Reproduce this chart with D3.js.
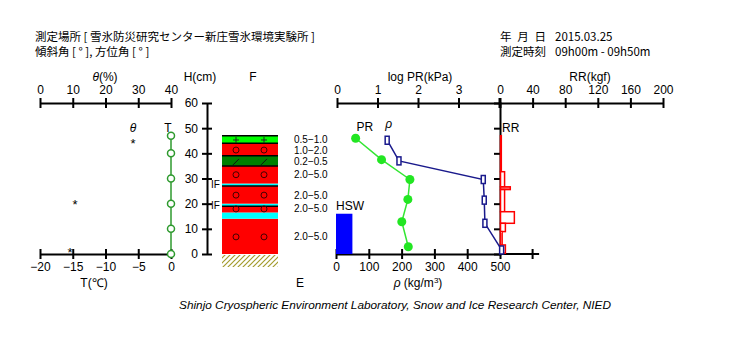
<!DOCTYPE html>
<html>
<head>
<meta charset="utf-8">
<script src="https://cdn.jsdelivr.net/npm/d3@7"></script>
<style>
    body { margin: 0; background: #fff; }
    text { font-family: 'Liberation Sans', Arial, sans-serif; fill: #000; }
    .jp { font-family: 'Noto Sans CJK JP', sans-serif; font-size: 11.5px; }
    .tick text { font-size: 12px; }
    .axis path, .axis line { stroke: #000; stroke-width: 2; }
</style>
</head>
<body>
<svg class="chart" width="730" height="350"></svg>
<script>
// header
var siteLine = '測定場所 [ 雪氷防災研究センター新庄雪氷環境実験所 ]';
var slopeLine = '傾斜角 [ ° ], 方位角 [ ° ]';
var dateText = '2015.03.25';
var timeText = '09h00m - 09h50m';

// ticks
var heightTicks = [0, 10, 20, 30, 40, 50, 60];
var thetaTicks = [0, 10, 20, 30, 40];
var tempTicks = [-20, -15, -10, -5, 0];
var logPrTicks = [0, 1, 2, 3, 4];
var rrTicks = [0, 40, 80, 120, 160, 200];
var rhoTicks = [0, 100, 200, 300, 400, 500];

// snow temperature
var tempHeights = [47, 40, 30, 20, 10, 0];
var tempValues = [0, 0, 0, 0, 0, 0];

// water content
var thetaHeights = [45, 20.7, 1.6];
var thetaValues = [28.4, 10.7, 9.2];

// layers
var layerBottoms = [0, 14, 16.5, 19, 20, 27, 28, 35, 39, 44];
var layerTops = [14, 16.5, 19, 20, 27, 28, 35, 39, 44, 47];
var layerTypes = ['zarame', 'ice', 'zarame', 'ice', 'zarame', 'ice', 'zarame', 'koshimari', 'zarame', 'shinsetsu'];
var boundaryHeights = [47, 44, 39, 35, 27, 19];
var iceHeights = [27.8, 19.4];

// grain shape and size
var grainHeights = [45.3, 41.3, 36.6, 31.5, 23.4, 17.9, 6.8];
var grainShapes = ['+', 'o', '/', 'o', 'o', 'o', 'o'];
var grainSizes = ['0.5−1.0', '1.0−2.0', '0.2−0.5', '2.0−5.0', '2.0−5.0', '2.0−5.0', '2.0−5.0'];

// push resistance, density
var prHeights = [46, 37.5, 29.6, 21.7, 12.8, 2.9];
var logPrValues = [0.46, 1.10, 1.80, 1.75, 1.60, 1.76];
var rhoHeights = [45.2, 37, 29.6, 21.4, 12.2, 1.6];
var rhoValues = [156, 192, 449, 452, 454, 505];

// ram resistance
var rrTops = [47, 32.7, 26.7, 25.6, 16.8, 12.2, 8.9, 3.6];
var rrBottoms = [32.7, 26.7, 25.6, 16.8, 12.2, 8.9, 3.6, 0.3];
var rrValues = [1, 5, 12, 5, 17, 6, 2, 6];

// water equivalent
var hswHeight = 16;
var hswWidth = 50;

var layerColor = { zarame: '#ff0000', ice: '#00ffff', koshimari: '#008000', shinsetsu: '#00ff00' };

var svg = d3.select('.chart');

var y = d3.scaleLinear().domain([0, 60]).range([254, 103]);
var xTheta = d3.scaleLinear().domain([0, 40]).range([40, 171]);
var xT = d3.scaleLinear().domain([-20, 0]).range([40, 171]);
var xPr = d3.scaleLinear().domain([0, 4]).range([337, 499]);
var xRR = d3.scaleLinear().domain([0, 200]).range([500, 663]);
var xRho = d3.scaleLinear().domain([0, 500]).range([336, 500]);

// header text
svg.append('text').attr('class', 'jp').attr('x', 35).attr('y', 41).text(siteLine);
svg.append('text').attr('class', 'jp').attr('x', 35).attr('y', 56).text(slopeLine);
svg.append('text').attr('class', 'jp').attr('x', 500).attr('y', 41).text('年\u2002月\u2002日');
svg.append('text').attr('class', 'jp').attr('x', 555).attr('y', 41).text(dateText);
svg.append('text').attr('class', 'jp').attr('x', 500).attr('y', 56).text('測定時刻');
svg.append('text').attr('class', 'jp').attr('x', 555).attr('y', 56).text(timeText);

// axis with ticks crossing the line
function drawAxis(axis, ty, labelY) {
    var g = svg.append('g')
        .attr('class', 'axis')
        .attr('transform', 'translate(0,' + ty + ')')
        .call(axis);
    g.selectAll('.tick line').attr('y1', -5).attr('y2', 5);
    g.selectAll('.tick text').attr('y', labelY).attr('dy', 0);
    return g;
}

drawAxis(d3.axisTop(xTheta).tickValues(thetaTicks).tickSizeOuter(0), y(60), -9);
drawAxis(d3.axisBottom(xT).tickValues(tempTicks).tickSizeOuter(0).tickFormat(d => d == 0 ? '0' : '−' + Math.abs(d)), y(0), 17);
drawAxis(d3.axisTop(xPr).tickValues(logPrTicks).tickSizeOuter(0).tickFormat(d3.format('d')), y(60), -9)
    .selectAll('.tick text').filter(d => d == 4).remove();
drawAxis(d3.axisTop(xRR).tickValues(rrTicks).tickSizeOuter(0), y(60), -9);

// bottom axis of the right panel, running on past 500
var rhoAxis = drawAxis(d3.axisBottom(xRho).tickValues(rhoTicks).tickSizeOuter(0), y(0), 17);
rhoAxis.append('path').attr('d', 'M' + xRho(500) + ',0H' + xRR(48)).attr('stroke', '#000').attr('stroke-width', 2);
rhoAxis.append('line').attr('x1', xRR(40)).attr('x2', xRR(40)).attr('y1', -5).attr('y2', 5);

// height axis
var hAxis = svg.append('g')
    .attr('class', 'axis')
    .attr('transform', 'translate(207,0)')
    .call(d3.axisLeft(y).tickValues(heightTicks).tickSizeOuter(0));
hAxis.selectAll('.tick line').attr('x1', -5).attr('x2', 5);
hAxis.selectAll('.tick text').attr('x', -9);

// vertical axis of the right panel
var rAxis = svg.append('g')
    .attr('class', 'axis')
    .attr('transform', 'translate(' + xRR(0) + ',0)')
    .call(d3.axisLeft(y).tickValues([10, 20, 30, 40, 50]).tickSizeOuter(0).tickSize(6));
rAxis.selectAll('.tick text').remove();

// axis titles
var titles = [
    { x: 105, y: 81, t: '(%)', sym: 'θ' },
    { x: 200, y: 81, t: 'H(cm)' },
    { x: 253, y: 81, t: 'F' },
    { x: 420, y: 81, t: 'log PR(kPa)' },
    { x: 590, y: 81, t: 'RR(kgf)' },
    { x: 300, y: 287, t: 'E' }
];
titles.forEach(d => {
    var t = svg.append('text').attr('x', d.x).attr('y', d.y).attr('text-anchor', 'middle').style('font-size', '12px');
    if (d.sym) t.append('tspan').style('font-style', 'italic').text(d.sym);
    t.append('tspan').text(d.t);
});
svg.append('text').attr('x', 94).attr('y', 287).attr('text-anchor', 'middle').style('font-size', '12px').text('T(℃)');
var rhoTitle = svg.append('text').attr('x', 418).attr('y', 287).attr('text-anchor', 'middle').style('font-size', '12px');
rhoTitle.append('tspan').style('font-style', 'italic').text('ρ');
rhoTitle.append('tspan').text(' (kg/m');
rhoTitle.append('tspan').attr('dy', -4).style('font-size', '8px').text('3');
rhoTitle.append('tspan').attr('dy', 4).text(')');

// water content stars
svg.append('text').attr('x', xTheta(28.4)).attr('y', y(48.5)).attr('text-anchor', 'middle')
    .style('font-size', '12px').style('font-style', 'italic').text('θ');
svg.selectAll('.star')
    .data(thetaValues)
    .enter()
    .append('text')
    .attr('x', (d, i) => xTheta(d))
    .attr('y', (d, i) => y(thetaHeights[i]) + 7)
    .attr('text-anchor', 'middle')
    .style('font-size', '13px')
    .text('*');

// temperature profile
var tempLine = d3.line().x((d, i) => xT(d)).y((d, i) => y(tempHeights[i]));
svg.append('path').datum(tempValues).attr('d', tempLine).attr('stroke', '#2e9a2e').attr('stroke-width', 1.5).attr('fill', 'none');
svg.selectAll('.tdot')
    .data(tempValues)
    .enter()
    .append('circle')
    .attr('cx', d => xT(d))
    .attr('cy', (d, i) => y(tempHeights[i]))
    .attr('r', 3.5)
    .attr('fill', '#fff')
    .attr('stroke', '#2e9a2e')
    .attr('stroke-width', 1.5);
svg.append('text').attr('x', xT(0) - 3).attr('y', y(48.5)).attr('text-anchor', 'middle').style('font-size', '12px').text('T');

// snow layers
var colLeft = 222, colRight = 278;
svg.selectAll('.layer')
    .data(layerTypes)
    .enter()
    .append('rect')
    .attr('x', colLeft)
    .attr('width', colRight - colLeft)
    .attr('y', (d, i) => y(layerTops[i]))
    .attr('height', (d, i) => y(layerBottoms[i]) - y(layerTops[i]))
    .attr('fill', d => layerColor[d]);

svg.selectAll('.boundary')
    .data(boundaryHeights)
    .enter()
    .append('line')
    .attr('x1', colLeft).attr('x2', colRight)
    .attr('y1', d => y(d)).attr('y2', d => y(d))
    .attr('stroke', '#000').attr('stroke-width', 1.5);

// ground hatch
var defs = svg.append('defs');
defs.append('pattern')
    .attr('id', 'hatch')
    .attr('patternUnits', 'userSpaceOnUse')
    .attr('width', 5).attr('height', 5)
    .append('path')
    .attr('d', 'M-1,6L6,-1M-1,1L1,-1M4,6L6,4')
    .attr('stroke', '#a39b2c').attr('stroke-width', 1.2);
svg.append('rect').attr('x', colLeft).attr('width', colRight - colLeft)
    .attr('y', y(0) + 1).attr('height', 12).attr('fill', 'url(#hatch)');

// grain shapes
[0.25, 0.75].forEach(f => {
    var gx = colLeft + (colRight - colLeft) * f;
    grainShapes.forEach((s, i) => {
        var gy = y(grainHeights[i]);
        if (s == 'o') {
            svg.append('circle').attr('cx', gx).attr('cy', gy).attr('r', 3).attr('fill', 'none').attr('stroke', '#400').attr('stroke-width', 1);
        } else if (s == '+') {
            svg.append('path').attr('d', 'M' + (gx - 3) + ',' + gy + 'h6M' + gx + ',' + (gy - 3) + 'v6').attr('stroke', '#222').attr('stroke-width', 1);
        } else {
            svg.append('path').attr('d', 'M' + (gx - 3) + ',' + (gy + 3) + 'L' + (gx + 3) + ',' + (gy - 3)).attr('stroke', '#111').attr('stroke-width', 1);
        }
    });
});

// grain size labels
svg.selectAll('.gsize')
    .data(grainSizes)
    .enter()
    .append('text')
    .attr('x', 294)
    .attr('y', (d, i) => y(grainHeights[i]) + 3.5)
    .style('font-size', '10px')
    .text(d => d);

// ice layer marks
svg.selectAll('.iflab')
    .data(iceHeights)
    .enter()
    .append('text')
    .attr('x', 211)
    .attr('y', d => y(d) + 4)
    .style('font-size', '10px')
    .text('IF');

// water equivalent bar
svg.append('rect')
    .attr('x', xRho(0)).attr('width', xRho(hswWidth) - xRho(0))
    .attr('y', y(hswHeight)).attr('height', y(0) - y(hswHeight))
    .attr('fill', '#0000ff');
svg.append('text').attr('x', xRho(0)).attr('y', y(hswHeight) - 4).style('font-size', '12px').text('HSW');

// ram resistance
svg.selectAll('.rr')
    .data(rrValues)
    .enter()
    .append('rect')
    .attr('x', xRR(0) + 0.5)
    .attr('width', d => xRR(d) - xRR(0))
    .attr('y', (d, i) => y(rrTops[i]))
    .attr('height', (d, i) => y(rrBottoms[i]) - y(rrTops[i]))
    .attr('fill', d => d == 12 ? '#ff6666' : '#fff')
    .attr('stroke', '#ff0000')
    .attr('stroke-width', 1.5);
svg.append('text').attr('x', xRR(0) + 2).attr('y', y(50) + 4).style('font-size', '12px').text('RR');

// push resistance
var prLine = d3.line().x(d => xPr(d)).y((d, i) => y(prHeights[i]));
svg.append('path').datum(logPrValues).attr('d', prLine).attr('stroke', '#33e633').attr('stroke-width', 1.5).attr('fill', 'none');
svg.selectAll('.prdot')
    .data(logPrValues)
    .enter()
    .append('circle')
    .attr('cx', d => xPr(d))
    .attr('cy', (d, i) => y(prHeights[i]))
    .attr('r', 4.5)
    .attr('fill', '#22e622');
svg.append('text').attr('x', xPr(0.48)).attr('y', y(49)).style('font-size', '12px').text('PR');

// density
var rhoLine = d3.line().x(d => xRho(d)).y((d, i) => y(rhoHeights[i]));
svg.append('path').datum(rhoValues).attr('d', rhoLine).attr('stroke', '#1a1a8c').attr('stroke-width', 1.5).attr('fill', 'none');
svg.selectAll('.rhodot')
    .data(rhoValues)
    .enter()
    .append('rect')
    .attr('x', d => xRho(d) - 2)
    .attr('y', (d, i) => y(rhoHeights[i]) - 4)
    .attr('width', 4)
    .attr('height', 8)
    .attr('fill', '#fff')
    .attr('stroke', '#1a1a8c')
    .attr('stroke-width', 1.5);
svg.append('text').attr('x', xRho(150)).attr('y', y(50)).style('font-size', '12px').style('font-style', 'italic').text('ρ');

// footer
svg.append('text')
    .attr('x', 395)
    .attr('y', 309)
    .attr('text-anchor', 'middle')
    .style('font-size', '11.8px')
    .style('font-style', 'italic')
    .text('Shinjo Cryospheric Environment Laboratory, Snow and Ice Research Center, NIED');
</script>
</body>
</html>
